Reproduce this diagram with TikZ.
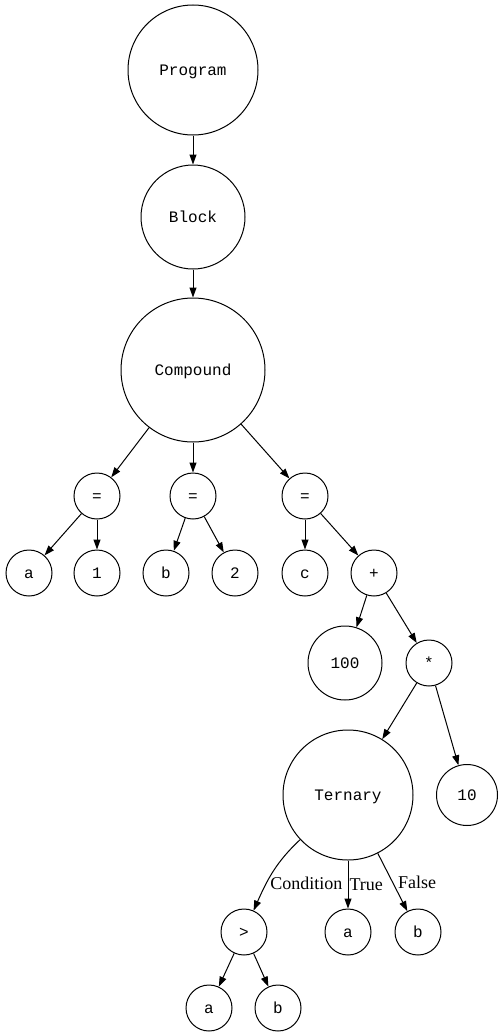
\documentclass[tikz,border=0pt]{standalone}
\usepackage{fontspec}
\setmainfont{Liberation Serif}
\newfontfamily\mono{Liberation Mono}
\usetikzlibrary{arrows.meta}
\begin{document}
\begin{tikzpicture}[x=1pt,y=1pt,
  rond/.style={draw, circle, inner sep=0pt, line width=1pt, text height=10pt, text depth=0pt,
    font=\mono\fontsize{16}{18}\selectfont},
  fleche/.style={line width=1pt, -{Triangle[length=10pt,width=7pt]}},
  etiq/.style={font=\fontsize{18}{20}\selectfont, inner sep=2pt}]
\useasboundingbox (0,0) rectangle (503,-1036);

% racine
\node[rond, minimum size=130pt] (prog) at (193,-70) {Program};
\node[rond, minimum size=104pt] (bloc) at (193,-217) {Block};
\node[rond, minimum size=144pt] (comp) at (193,-370) {Compound};

% affectations
\node[rond, minimum size=46pt] (eqA) at (97,-496) {=};
\node[rond, minimum size=46pt] (eqB) at (193,-496) {=};
\node[rond, minimum size=46pt] (eqC) at (305,-496) {=};

% feuilles
\node[rond, minimum size=46pt] (varA) at (29,-573) {a};
\node[rond, minimum size=46pt] (un) at (97,-573) {1};
\node[rond, minimum size=46pt] (varB) at (166,-573) {b};
\node[rond, minimum size=46pt] (deux) at (235,-573) {2};
\node[rond, minimum size=46pt] (varC) at (305,-573) {c};
\node[rond, minimum size=46pt] (plus) at (374,-573) {+};

% expression
\node[rond, minimum size=74pt] (cent) at (345,-663) {100};
\node[rond, minimum size=46pt] (fois) at (429,-663) {*};
\node[rond, minimum size=130pt] (tern) at (348,-795) {Ternary};
\node[rond, minimum size=61pt] (dix) at (467,-795) {10};

% ternaire
\node[rond, minimum size=46pt] (plusgrand) at (244,-932) {>};
\node[rond, minimum size=46pt] (vrai) at (348,-932) {a};
\node[rond, minimum size=46pt] (faux) at (418,-932) {b};
\node[rond, minimum size=46pt] (cmpA) at (209,-1008) {a};
\node[rond, minimum size=46pt] (cmpB) at (278,-1008) {b};

% aretes
\foreach \a/\b in {prog/bloc, bloc/comp, comp/eqA, comp/eqB, comp/eqC,
  eqA/varA, eqA/un, eqB/varB, eqB/deux, eqC/varC, eqC/plus,
  plus/cent, plus/fois, fois/tern, fois/dix, plusgrand/cmpA, plusgrand/cmpB} {
  \draw[fleche] (\a) -- (\b);
}

% aretes avec etiquettes
\draw[fleche] (tern) to[out=-137,in=66] node[etiq, pos=0.6, anchor=west, inner sep=1pt, yshift=-4pt] {Condition} (plusgrand);
\draw[fleche] (tern) -- node[etiq, midway, right, inner sep=1pt] {True} (vrai);
\draw[fleche] (tern) -- node[etiq, pos=0.5, right, inner sep=5pt] {False} (faux);
\end{tikzpicture}
\end{document}
